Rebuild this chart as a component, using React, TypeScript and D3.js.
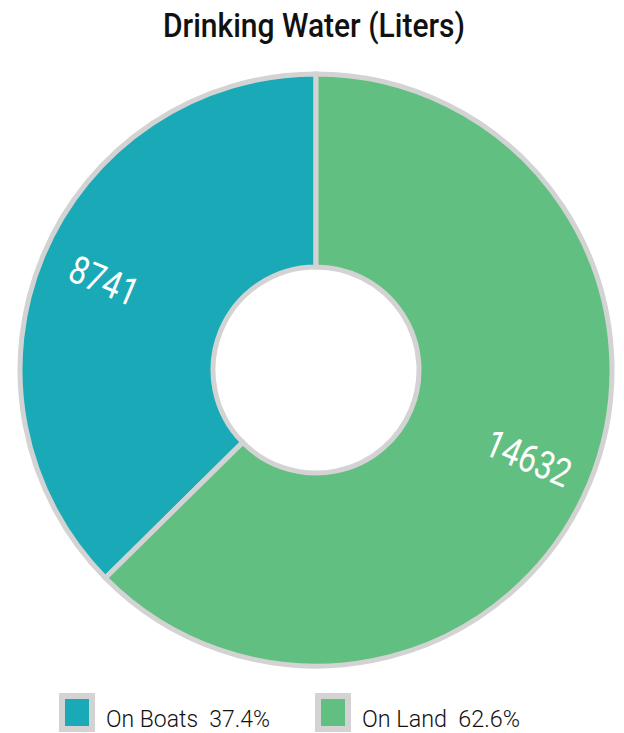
import React from "react";
import * as d3 from "d3";

const categories = ["On Boats", "On Land"];
const values = [8741, 14632];
const percents = ["37.4%", "62.6%"];
const colors = ["#19a9b7", "#62bf82"];
const title = "Drinking Water (Liters)";

const W = 624;
const H = 733;
const cx = 316;
const cy = 370;
const outerR = 296;
const innerR = 103;
const labelR = 230;

export default function App() {
  const data = categories.map((c, i) => ({ name: c, value: values[i], color: colors[i], pct: percents[i] }));
  const pie = d3.pie<any>().value((d: any) => d.value);
  const arcs = pie(data);
  const arc = d3.arc<any>().innerRadius(innerR).outerRadius(outerR);
  const legendX = [62, 318];
  const legendTextLen = [164, 158];
  return (
    <svg width={W} height={H} style={{ position: "absolute", left: 0, top: 0 }}>
      <text
        x={314}
        y={37}
        textAnchor="middle"
        fontFamily="Roboto"
        fontWeight={500}
        fontSize={33}
        fill="#111"
        textLength={302}
        lengthAdjust="spacingAndGlyphs"
      >
        {title}
      </text>
      <g transform={`translate(${cx},${cy})`}>
        {arcs.map((a, i) => (
          <path key={i} d={arc(a) as string} fill={a.data.color} stroke="#d3d3d3" strokeWidth={5} />
        ))}
        {arcs.map((a, i) => {
          const mid = (a.startAngle + a.endAngle) / 2;
          const x = labelR * Math.sin(mid);
          const y = -labelR * Math.cos(mid);
          const deg = (mid * 180) / Math.PI;
          const rot = deg > 180 ? deg - 270 : deg - 90;
          const len = String(a.data.value).length * 17.8;
          return (
            <text
              key={"l" + i}
              transform={`translate(${x},${y}) rotate(${rot})`}
              textAnchor="middle"
              dominantBaseline="central"
              fontFamily="Roboto"
              fontWeight={400}
              fontSize={39}
              fill="#fff"
              textLength={len}
              lengthAdjust="spacingAndGlyphs"
            >
              {a.data.value}
            </text>
          );
        })}
      </g>
      {data.map((d, i) => (
        <g key={"lg" + i}>
          <rect x={legendX[i]} y={696} width={30} height={33} fill={d.color} stroke="#d3d3d3" strokeWidth={6} />
          <text
            x={legendX[i] + 44}
            y={727}
            fontFamily="Roboto"
            fontWeight={300}
            fontSize={24}
            fill="#111"
            textLength={legendTextLen[i]}
            lengthAdjust="spacingAndGlyphs"
            style={{ whiteSpace: "pre" }}
          >
            {`${d.name}  ${d.pct}`}
          </text>
        </g>
      ))}
    </svg>
  );
}
